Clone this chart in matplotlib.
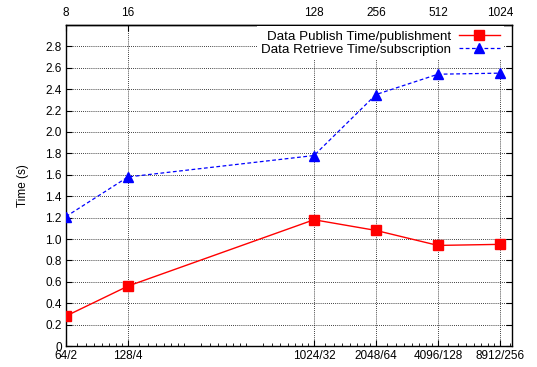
import numpy as np
import matplotlib
matplotlib.use("Agg")
import matplotlib.pyplot as plt
from matplotlib.ticker import FixedLocator, NullFormatter

plt.rcParams['font.family'] = ['Liberation Sans', 'DejaVu Sans']
plt.rcParams['font.size'] = 8.5

# data size / count -- last point is plotted at 8192 (label in the source says 8912)
x_pos = [64, 128, 1024, 2048, 4096, 8192]
bottom_labels = ["64/2", "128/4", "1024/32", "2048/64", "4096/128", "8912/256"]
top_labels = ["8", "16", "128", "256", "512", "1024"]

publish = [0.28, 0.56, 1.18, 1.08, 0.94, 0.95]
retrieve = [1.21, 1.58, 1.78, 2.35, 2.54, 2.55]

fig = plt.figure(figsize=(5.37, 3.67), dpi=100)
ax = fig.add_axes([0.1229, 0.0572, 0.8305, 0.8747])

ax.plot(x_pos, publish, color='#ff0000', lw=1.0, marker='s', ms=7,
        label='Data Publish Time/publishment', zorder=3)
ax.plot(x_pos, retrieve, color='#0000ff', lw=0.9, ls=(0, (3, 2)), marker='^', ms=7,
        label='Data Retrieve Time/subscription', zorder=3)

ax.set_xscale('log', base=2)
ax.set_xlim(64, 9370)
ax.set_ylim(0, 3.0)

ax.set_xticks(x_pos)
ax.set_xticklabels(bottom_labels)
minor = []
for k in range(6, 14):
    b = 2 ** k
    minor += list(np.linspace(b, 2 * b, 9)[1:-1])
ax.xaxis.set_minor_locator(FixedLocator(minor))
ax.xaxis.set_minor_formatter(NullFormatter())

yt = np.arange(0, 2.81, 0.2)
ax.set_yticks(yt)
ax.set_yticklabels(["0"] + ["%.1f" % v for v in yt[1:]])

ax.tick_params(axis='both', which='major', direction='in', length=4, width=0.8,
               right=True, labelsize=8.5, pad=3)
ax.tick_params(axis='x', which='minor', direction='in', length=2, width=0.6, top=False)

sec = ax.secondary_xaxis('top')
sec.set_xticks(x_pos)
sec.set_xticklabels(top_labels)
sec.xaxis.set_minor_locator(FixedLocator([]))
sec.tick_params(direction='in', length=4, width=0.8, labelsize=8.5, pad=4)

ax.grid(True, which='major', color='black', ls=(0, (1, 1.5)), lw=0.6)
ax.set_axisbelow(True)

for s in ax.spines.values():
    s.set_linewidth(1.0)
sec.spines['top'].set_linewidth(1.0)

ax.set_ylabel('Time (s)', fontsize=8.5, labelpad=12)

# markerfirst=False right-aligns the rows, so the labels end at the same x
leg = ax.legend(loc='upper right', bbox_to_anchor=(0.985, 1.0), markerfirst=False,
                frameon=True, facecolor='white', edgecolor='none', framealpha=1.0,
                fancybox=False, borderaxespad=0.1, borderpad=0.3, handlelength=3.1,
                labelspacing=0.05, handletextpad=0.55, fontsize=9.6)

fig.savefig('out.png', dpi=100)
